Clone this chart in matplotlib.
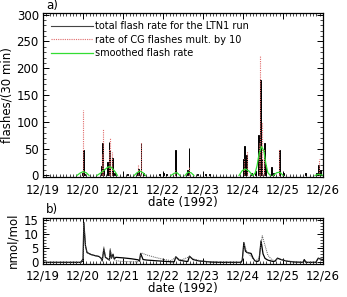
import numpy as np
import matplotlib
matplotlib.use("Agg")
import matplotlib.pyplot as plt
from matplotlib.ticker import MultipleLocator
from matplotlib.lines import Line2D

# x axis: days after 12/19 1992 (30 min bins)
day_labels = ["12/19", "12/20", "12/21", "12/22", "12/23", "12/24", "12/25", "12/26"]

# panel a: total flash rate per 30 min (bin start in days, value)
flash_t = [0.98, 1.00, 1.02, 1.46, 1.48, 1.50, 1.60, 1.62, 1.64, 1.66, 1.72, 1.74, 1.78,
           2.10, 2.36, 2.38, 2.44, 2.50, 2.90, 3.00, 3.08, 3.30, 3.60, 3.64, 3.85,
           4.05, 4.15, 5.00, 5.02, 5.08, 5.20, 5.30, 5.38, 5.42, 5.44, 5.46, 5.52, 5.56,
           5.70, 5.76, 5.90, 6.00, 6.55, 6.82, 6.88, 6.92]
flash_v = [4, 48, 3, 18, 60, 12, 25, 20, 62, 45, 33, 10, 4,
           3, 6, 12, 60, 5, 3, 4, 2, 48, 10, 52, 3,
           3, 3, 30, 55, 38, 5, 8, 75, 178, 162, 30, 60, 20,
           15, 5, 48, 5, 5, 5, 20, 10]

# rate of CG flashes multiplied by 10
cg_t = [1.00, 1.46, 1.48, 1.64, 1.66, 1.72, 2.36, 2.44, 3.30, 3.64,
        5.02, 5.08, 5.38, 5.42, 5.46, 5.52, 5.90, 6.88]
cg_v = [122, 40, 86, 50, 70, 44, 20, 63, 10, 15,
        30, 45, 60, 222, 100, 50, 50, 30]

# smoothed flash rate (NaN = not drawn, curve sits on the axis there)
nan = np.nan
smooth_t = [0.85, 0.92, 1.00, 1.08, 1.15, nan, 1.35, 1.45, 1.55, 1.63, 1.71, 1.80, 1.86, nan,
            2.28, 2.35, 2.42, 2.50, 2.56, nan, 3.20, 3.28, 3.35, 3.42, nan,
            3.55, 3.62, 3.70, 3.77, nan,
            4.90, 4.98, 5.06, 5.15, 5.24, 5.30, 5.35, 5.40, 5.46, 5.52, 5.57, 5.62, 5.68, nan,
            5.76, 5.84, 5.92, 6.00, nan, 6.80, 6.88, 6.96, 7.00]
smooth_v = [0, 4, 7, 5, 0, nan, 0, 5, 11, 16, 15, 7, 0, nan,
            0, 5, 8, 5, 0, nan, 0, 4, 5, 0, nan,
            0, 6, 5, 0, nan,
            0, 9, 12, 8, 0, 4, 18, 40, 54, 46, 22, 5, 0, nan,
            0, 5, 6, 0, nan, 0, 2, 1, 0]

# panel b: mixing ratio (nmol/mol)
nox_t = [0.00, 0.95, 0.98, 1.00, 1.02, 1.06, 1.10, 1.20, 1.30, 1.40, 1.45, 1.48, 1.52,
         1.56, 1.62, 1.66, 1.68, 1.71, 1.75, 1.78, 1.82, 2.00, 2.20, 2.38, 2.41, 2.44,
         2.50, 2.60, 2.80, 3.00, 3.20, 3.28, 3.32, 3.40, 3.55, 3.62, 3.66, 3.75, 3.90,
         4.20, 4.40, 4.95, 4.98, 5.02, 5.06, 5.10, 5.20, 5.25, 5.30, 5.36, 5.40, 5.45,
         5.50, 5.55, 5.62, 5.75, 5.80, 5.86, 5.95, 6.10, 6.30, 6.50, 6.53, 6.56, 6.60,
         6.82, 6.88, 6.95, 7.00]
nox_v = [0.0, 0.0, 0.8, 0.3, 14.3, 6.0, 3.5, 2.8, 2.4, 2.1, 1.5, 0.5, 4.8,
         1.8, 1.2, 0.8, 4.3, 1.5, 2.9, 1.2, 1.8, 1.6, 1.3, 0.9, 0.4, 3.2,
         1.0, 0.8, 0.6, 0.4, 0.2, 0.2, 2.0, 0.8, 0.4, 0.3, 2.2, 1.0, 0.5,
         0.1, 0.0, 0.0, 0.8, 7.1, 4.0, 3.5, 3.2, 1.5, 0.5, 0.3, 0.6, 7.7,
         3.0, 1.4, 0.8, 0.3, 0.4, 1.5, 1.0, 0.4, 0.1, 0.0, 1.0, 0.1, 0.0,
         0.0, 1.5, 1.1, 1.0]
nox2_t = [0.00, 0.95, 0.98, 1.00, 1.02, 1.06, 1.10, 1.20, 1.30, 1.40, 1.45, 1.48, 1.52,
          1.56, 1.62, 1.66, 1.68, 1.71, 1.75, 1.78, 1.82, 2.00, 2.20, 2.38, 2.41, 2.45,
          2.60, 2.80, 3.00, 3.20, 3.32, 3.45, 3.66, 3.80, 4.00, 4.40, 4.95, 4.98, 5.03,
          5.08, 5.15, 5.25, 5.32, 5.40, 5.48, 5.55, 5.62, 5.70, 5.78, 5.86, 5.95, 6.10,
          6.30, 6.50, 6.55, 6.60, 6.82, 6.88, 6.95, 7.00]
nox2_v = [0.0, 0.0, 0.8, 0.3, 14.0, 6.0, 3.5, 2.8, 2.4, 2.1, 1.5, 0.5, 5.5,
          2.0, 1.2, 0.8, 5.0, 1.5, 2.9, 1.0, 0.6, 0.3, 0.2, 0.2, 0.4, 3.4,
          2.6, 1.8, 1.1, 0.6, 1.8, 0.8, 2.0, 1.0, 0.4, 0.1, 0.0, 0.6, 6.8,
          4.2, 3.0, 1.2, 0.5, 1.5, 9.5, 6.0, 2.6, 1.2, 0.5, 1.3, 1.0, 0.5,
          0.2, 0.0, 0.8, 0.0, 0.0, 1.4, 1.2, 1.0]

binw = 1.0 / 48.0
fs = 8.5

fig = plt.figure(figsize=(3.47, 2.97), dpi=100)
ax1 = fig.add_axes([0.124, 0.404, 0.807, 0.552])
ax2 = fig.add_axes([0.124, 0.112, 0.807, 0.155])


def style(ax, xpad):
    ax.set_xlim(0, 7)
    ax.set_xticks(range(8))
    ax.set_xticklabels(day_labels)
    ax.xaxis.set_minor_locator(MultipleLocator(1.0 / 12))
    ax.tick_params(which="both", direction="in", top=True, right=True, labelsize=fs)
    ax.tick_params(axis="x", pad=xpad)
    ax.tick_params(axis="y", pad=3)
    ax.tick_params(which="major", length=4, width=0.7)
    ax.tick_params(which="minor", length=2, width=0.5)
    for s in ax.spines.values():
        s.set_linewidth(0.9)
    ax.set_xlabel("date (1992)", fontsize=fs, labelpad=-0.5)


# panel a
ax1.bar(flash_t, flash_v, width=binw, align="edge", color="#5a1c1c", edgecolor="black",
        linewidth=0.7)
ax1.vlines(np.array(cg_t) + binw / 2, 0, cg_v, colors="#e06a6a", linestyles=(0, (1, 1)),
           linewidth=0.8)
ax1.plot(smooth_t, smooth_v, color="#33dd33", linewidth=0.9)
ax1.set_ylim(-3, 303)
ax1.set_yticks([0, 50, 100, 150, 200, 250, 300])
ax1.yaxis.set_minor_locator(MultipleLocator(10))
style(ax1, 5)
ax1.set_ylabel("flashes/(30 min)", fontsize=fs, labelpad=2)

handles = [Line2D([], [], color="#444444", lw=0.8),
           Line2D([], [], color="#e06a6a", lw=0.8, ls=(0, (1, 1))),
           Line2D([], [], color="#33dd33", lw=0.9)]
ax1.legend(handles, ["total flash rate for the LTN1 run", "rate of CG flashes mult. by 10",
                     "smoothed flash rate"],
           loc="upper left", frameon=False, fontsize=7, handlelength=4.3,
           handletextpad=0.2, labelspacing=0.35, borderaxespad=0.55, borderpad=0.3)
fig.text(0.133, 0.96, "a)", fontsize=fs, va="bottom", ha="left")

# panel b
ax2.plot(nox_t, nox_v, color="black", linewidth=0.9)
ax2.plot(nox2_t, nox2_v, color="#555555", linewidth=0.7, linestyle=(0, (1, 1)))
ax2.set_ylim(-0.5, 16)
ax2.set_yticks([0, 5, 10, 15])
ax2.yaxis.set_minor_locator(MultipleLocator(1))
style(ax2, 4)
ax2.set_ylabel("nmol/mol", fontsize=fs, labelpad=3)
fig.text(0.133, 0.272, "b)", fontsize=fs, va="bottom", ha="left")

fig.savefig("out.png", dpi=100)
